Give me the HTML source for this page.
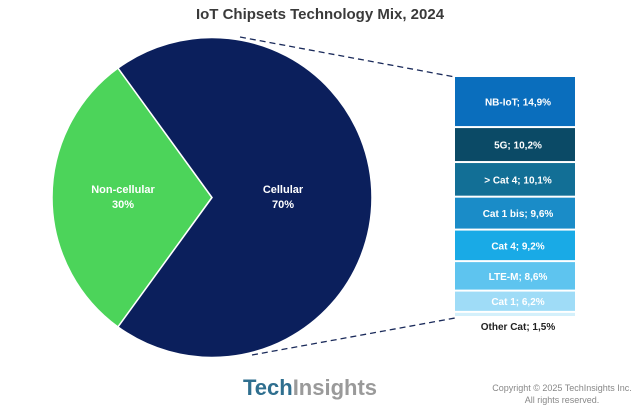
<!DOCTYPE html>
<html><head><meta charset="utf-8"><style>
body{margin:0;background:#fff;font-family:"Liberation Sans",sans-serif;}
svg{display:block}
</style></head><body>
<svg width="640" height="413" viewBox="0 0 640 413" id="chart">
<text x="320" y="19" text-anchor="middle" font-size="15" font-weight="bold" fill="#3a3a3a">IoT Chipsets Technology Mix, 2024</text>
<g id="pie"></g>
<g id="bars"></g>
<text x="310" y="395" text-anchor="middle" font-size="22" font-weight="bold"><tspan fill="#2f6f8f">Tech</tspan><tspan fill="#9a9a9a">Insights</tspan></text>
<text x="562" y="391" text-anchor="middle" font-size="9" fill="#888">Copyright © 2025 TechInsights Inc.</text>
<text x="562" y="403" text-anchor="middle" font-size="9" fill="#888">All rights reserved.</text>
</svg>
<script>
const pieLabels=["Non-cellular","Cellular"];
const pieValues=[30,70];
const barLabels=["NB-IoT","5G","> Cat 4","Cat 1 bis","Cat 4","LTE-M","Cat 1","Other Cat"];
const barValues=[14.9,10.2,10.1,9.6,9.2,8.6,6.2,1.5];
const barColors=["#0a6ebd","#0b4a66","#126f96","#1a8cc8","#19aae6","#5ec4ef","#9fdcf7","#d4f0fb"];
const NS="http://www.w3.org/2000/svg";
function mk(t,a,p){const e=document.createElementNS(NS,t);for(const k in a)e.setAttribute(k,a[k]);p.appendChild(e);return e;}
const cx=212,cy=197.5,r=160;
const pie=document.getElementById('pie');
const pieColors=["#4cd45a","#0b1f5c"];
const tot=pieValues.reduce((a,b)=>a+b,0);
// non-cellular centered on the left (180deg)
let start=Math.PI-(pieValues[0]/tot)*Math.PI;
pieValues.forEach((v,i)=>{
  const a0=start,a1=start+v/tot*2*Math.PI;start=a1;
  const x0=cx+r*Math.cos(a0),y0=cy-r*Math.sin(a0),x1=cx+r*Math.cos(a1),y1=cy-r*Math.sin(a1);
  const large=(a1-a0)>Math.PI?1:0;
  const p=mk('path',{d:`M${cx},${cy}L${x0},${y0}A${r},${r} 0 ${large} 0 ${x1},${y1}Z`,fill:pieColors[i],stroke:'#fff','stroke-width':1.5},pie);
  
  
  const am=(a0+a1)/2,lx=i==0?123:283,ly=196;
  const t1=mk('text',{x:lx,y:ly-3,'text-anchor':'middle','font-size':11,'font-weight':'bold',fill:'#fff'},pie);t1.textContent=pieLabels[i];
  
  
  const t2=mk('text',{x:lx,y:ly+12,'text-anchor':'middle','font-size':11,'font-weight':'bold',fill:'#fff'},pie);t2.textContent=v+'%';
  
  
});
const bars=document.getElementById('bars');
const bx=455,bw=120,btop=77,bbot=318;
const bsum=barValues.reduce((a,b)=>a+b,0);
const sc=(bbot-btop)/bsum;
let y=btop;
barValues.forEach((v,i)=>{
  const h=v*sc;
  const rc=mk('rect',{x:bx,y:y,width:bw,height:Math.max(h-2,1),fill:barColors[i]},bars);
  
  
  const lbl=barLabels[i]+'; '+String(v).replace('.',',')+'%';
  const last=i==barValues.length-1;
  const t=mk('text',{x:bx+bw/2+3,y:last?y+17:y+h/2+3,'text-anchor':'middle','font-size':10,'font-weight':'bold',fill:last?'#222':'#fff'},bars);
  t.textContent=lbl;
  
  
  y+=h;
});
const l1=mk('line',{x1:240,y1:37,x2:bx,y2:btop,stroke:'#1a2a5a','stroke-width':1.3,'stroke-dasharray':'6,4'},bars);


const l2=mk('line',{x1:252,y1:355,x2:bx,y2:bbot,stroke:'#1a2a5a','stroke-width':1.3,'stroke-dasharray':'6,4'},bars);


</script>
</body></html>
